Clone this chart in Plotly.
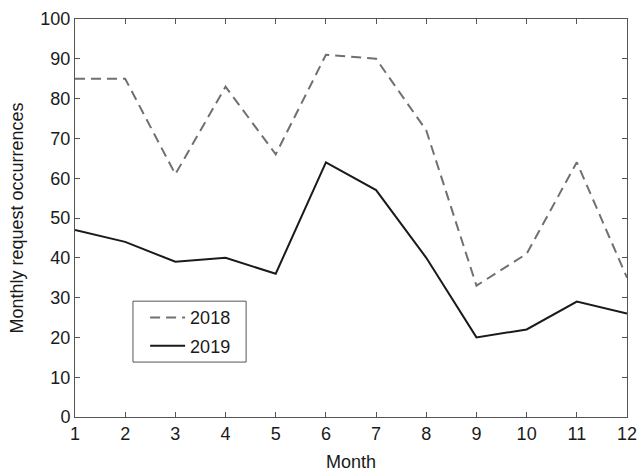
import plotly.graph_objects as go

months = list(range(1, 13))
requests_2018 = [85, 85, 61, 83, 66, 91, 90, 72, 33, 41, 64, 35]
requests_2019 = [47, 44, 39, 40, 36, 64, 57, 40, 20, 22, 29, 26]
x_ticks = list(range(1, 13))
y_ticks = list(range(0, 101, 10))

FONT = "Liberation Sans, Arial, Helvetica, sans-serif"
TEXT = "#1a1a1a"
AXIS = "#555555"

fig = go.Figure()
fig.add_trace(go.Scatter(
    x=months, y=requests_2018, mode="lines", name="2018", legendgroup="a",
    line=dict(color="#707070", width=2, dash="10px,6px"),
))
fig.add_trace(go.Scatter(
    x=months, y=requests_2019, mode="lines", name="2019", legendgroup="b",
    line=dict(color=TEXT, width=2),
))

axis_common = dict(
    showline=True, linecolor=AXIS, linewidth=1, mirror="ticks",
    ticks="inside", ticklen=5, tickcolor=AXIS, tickwidth=1,
    showgrid=False, zeroline=False, automargin=False,
    tickfont=dict(family=FONT, size=18, color=TEXT),
)

fig.update_xaxes(
    range=[1, 12], tickvals=x_ticks, ticktext=[str(v) for v in x_ticks],
    title=dict(text="Month", font=dict(family=FONT, size=18, color=TEXT), standoff=13),
    **axis_common,
)
fig.update_yaxes(
    range=[0, 100], tickvals=y_ticks, ticktext=[str(v) for v in y_ticks],
    title=dict(text="Monthly request occurrences", font=dict(family=FONT, size=18, color=TEXT), standoff=12),
    **axis_common,
)

# frame around the legend entries
fig.add_shape(
    type="rect", xref="paper", yref="paper",
    x0=0.105, x1=0.310, y0=0.138, y1=0.291,
    line=dict(color=AXIS, width=1), fillcolor="rgba(0,0,0,0)", layer="above",
)

fig.update_layout(
    width=638, height=472,
    margin=dict(l=75, r=11, t=19, b=55),
    plot_bgcolor="white", paper_bgcolor="white",
    font=dict(family=FONT, size=18, color=TEXT),
    legend=dict(
        x=0.127, y=0.296, xanchor="left", yanchor="top",
        borderwidth=0, bgcolor="rgba(0,0,0,0)",
        itemwidth=35, tracegroupgap=2,
        font=dict(family=FONT, size=18, color=TEXT),
    ),
)

fig.write_html("out.html")
